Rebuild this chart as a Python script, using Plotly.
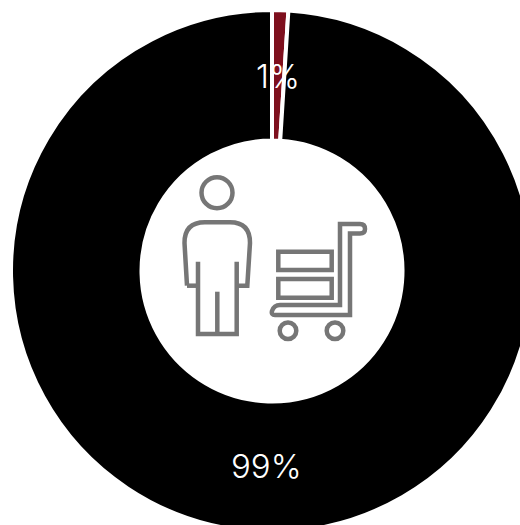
import plotly.graph_objects as go

labels = ["A", "B"]
values = [1, 99]
slice_colors = ["#7e0f1d", "#000000"]
text_labels = ["1%", "99%"]

W, H = 533, 532
L, T = 11, 10
PW, PH = W - L, H - T


def X(px):
    return (px - L) / PW


def Y(py):
    return 1 - (py - T) / PH


def path(cmds):
    out = []
    for c in cmds:
        if isinstance(c, str):
            out.append(c)
        else:
            out.append(f"{X(c[0]):.5f},{Y(c[1]):.5f}")
    return " ".join(out)


def poly(points, close=False):
    s = "M " + " L ".join(f"{X(a):.5f},{Y(b):.5f}" for a, b in points)
    return s + (" Z" if close else "")


ICON = dict(color="#767676", width=4.5)
shapes = []


def add_path(d):
    shapes.append(dict(type="path", xref="paper", yref="paper", path=d, line=ICON, layer="above"))


def add_circle(cx, cy, r):
    shapes.append(dict(type="circle", xref="paper", yref="paper",
                       x0=X(cx - r), x1=X(cx + r), y0=Y(cy + r), y1=Y(cy - r), line=ICON))


add_circle(217, 192.7, 15.5)
add_path(path(["M", (187, 285.7), "L", (184.5, 243), "Q", (184.5, 222.3), (205, 222.3), "L", (230, 222.3),
               "Q", (250, 222.3), (250, 243), "L", (247.3, 285.7), "L", (236.7, 285.7)]))
add_path(path(["M", (187, 285.7), "L", (198, 285.7)]))
add_path(poly([(198, 261.7), (198, 334), (236.7, 334), (236.7, 261.7)]))
add_path(poly([(217.3, 291.7), (217.3, 334)]))
add_path(poly([(278.3, 251.7), (331.7, 251.7), (331.7, 270), (278.3, 270)], True))
add_path(poly([(278.3, 279), (331.7, 279), (331.7, 297.7), (278.3, 297.7)], True))
add_path(path(["M", (340, 305), "L", (340, 224), "L", (360, 224), "Q", (365, 224), (365, 229), "Q", (365, 233.5), (360, 233.5),
               "L", (350, 233.5), "L", (350, 315), "L", (275, 315), "Q", (271, 315), (272, 311),
               "Q", (274, 305), (280, 305), "Z"]))
add_circle(288, 330.7, 8.3)
add_circle(335, 330.7, 8.3)

fig = go.Figure(go.Pie(
    labels=labels, values=values, hole=0.5, sort=False, direction="clockwise", rotation=0,
    marker=dict(colors=slice_colors, line=dict(color="#ffffff", width=4)),
    textinfo="none", hoverinfo="none", showlegend=False,
    domain=dict(x=[0, 1], y=[0, 1]),
))

text_font = dict(family="Inter", size=33, color="#ffffff", weight=300)
annotations = [
    dict(text=text_labels[0], x=X(278), y=Y(76), xref="paper", yref="paper", showarrow=False, font=text_font,
         xanchor="center", yanchor="middle"),
    dict(text=text_labels[1], x=X(266), y=Y(466), xref="paper", yref="paper", showarrow=False, font=text_font,
         xanchor="center", yanchor="middle"),
]

fig.update_layout(
    width=W, height=H, margin=dict(l=L, t=T, r=0, b=0), paper_bgcolor="#ffffff",
    shapes=shapes, annotations=annotations,
)
fig.write_html(
    "out.html",
    config={"displayModeBar": False},
    post_script="document.body.style.margin='0';document.documentElement.style.overflow='hidden';document.body.style.overflow='hidden';",
)
